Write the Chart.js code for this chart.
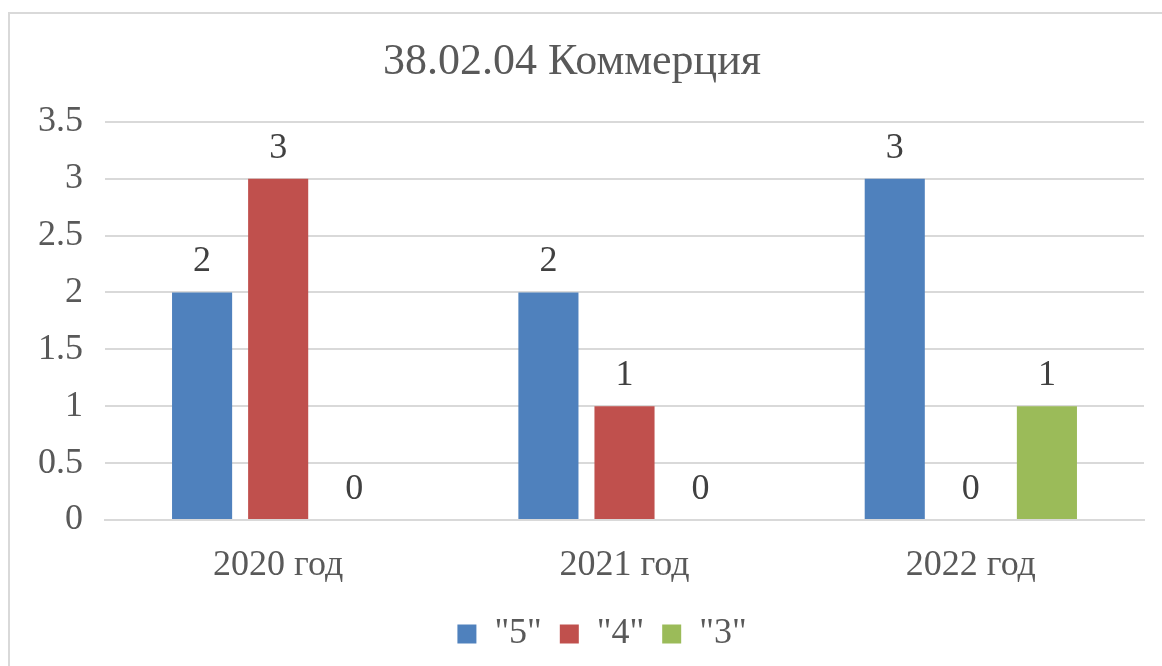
<!DOCTYPE html>
<html>
<head>
    <meta charset="UTF-8">
    <title>38.02.04 Коммерция</title>
    <script src="https://cdn.jsdelivr.net/npm/chart.js"></script>
    <style>
        body { margin: 0; background: #fff; overflow: hidden; }
        .frame {
            position: absolute; left: 8px; top: 12px;
            width: 1200px; height: 700px;
            border: 2px solid #d9d9d9;
        }
        .wrap { position: absolute; left: 0; top: 0; width: 1162px; height: 666px; }
    </style>
</head>
<body>
    <div class="frame"></div>
    <div class="wrap"><canvas id="chart" width="1162" height="666"></canvas></div>
    <script>
        const years = ['2020 год', '2021 год', '2022 год'];
        const grade5 = [2, 2, 3];
        const grade4 = [3, 1, 0];
        const grade3 = [0, 0, 1];
        const seriesNames = ['"5"', '"4"', '"3"'];

        const fontFamily = '"Liberation Serif", serif';
        const textColor = '#595959';

        Chart.defaults.font.family = fontFamily;

        // подписи значений над столбцами
        const valueLabels = {
            id: 'valueLabels',
            afterDatasetsDraw(chart) {
                const ctx = chart.ctx;
                ctx.save();
                ctx.font = '36px "Liberation Serif", serif';
                ctx.fillStyle = '#404040';
                ctx.textAlign = 'center';
                ctx.textBaseline = 'alphabetic';
                chart.data.datasets.forEach((ds, i) => {
                    chart.getDatasetMeta(i).data.forEach((bar, j) => {
                        ctx.fillText(ds.data[j], bar.x, bar.y - 21);
                    });
                });
                ctx.restore();
            }
        };

        // легенда чуть правее центра, как в оригинале
        const legendShift = {
            id: 'legendShift',
            afterLayout(chart) {
                chart.legend.left += 30;
                chart.legend.right += 30;
            }
        };

        new Chart(document.getElementById('chart'), {
            type: 'bar',
            data: {
                labels: years,
                datasets: [
                    { label: seriesNames[0], data: grade5, backgroundColor: '#4f81bd' },
                    { label: seriesNames[1], data: grade4, backgroundColor: '#c0504d' },
                    { label: seriesNames[2], data: grade3, backgroundColor: '#9bbb59' }
                ]
            },
            options: {
                responsive: false,
                animation: false,
                layout: { padding: { left: 0, right: 18, top: 0, bottom: 4 } },
                datasets: {
                    bar: { categoryPercentage: 0.659, barPercentage: 0.79, borderWidth: 0 }
                },
                scales: {
                    y: {
                        min: 0, max: 3.5,
                        ticks: {
                            stepSize: 0.5, color: textColor, padding: 22,
                            font: { family: fontFamily, size: 36 },
                            callback: v => String(v)
                        },
                        grid: { color: '#d9d9d9', lineWidth: 2, drawTicks: false },
                        border: { display: false },
                        afterFit(scale) { scale.width = 105; }
                    },
                    x: {
                        ticks: { color: textColor, font: { family: fontFamily, size: 36 }, padding: 24 },
                        grid: { display: false, drawTicks: false },
                        border: { color: '#d9d9d9', width: 2 },
                        afterFit(scale) { scale.height = 78; }
                    }
                },
                plugins: {
                    title: {
                        display: true,
                        text: '38.02.04 Коммерция',
                        color: textColor,
                        font: { family: fontFamily, size: 44, weight: 'normal' },
                        padding: { top: 36, bottom: 33 }
                    },
                    legend: {
                        position: 'bottom',
                        labels: {
                            color: textColor,
                            font: { family: fontFamily, size: 36 },
                            boxWidth: 19, boxHeight: 19,
                            padding: 18
                        }
                    },
                    tooltip: { enabled: false }
                }
            },
            plugins: [valueLabels, legendShift]
        });
    </script>
</body>
</html>
